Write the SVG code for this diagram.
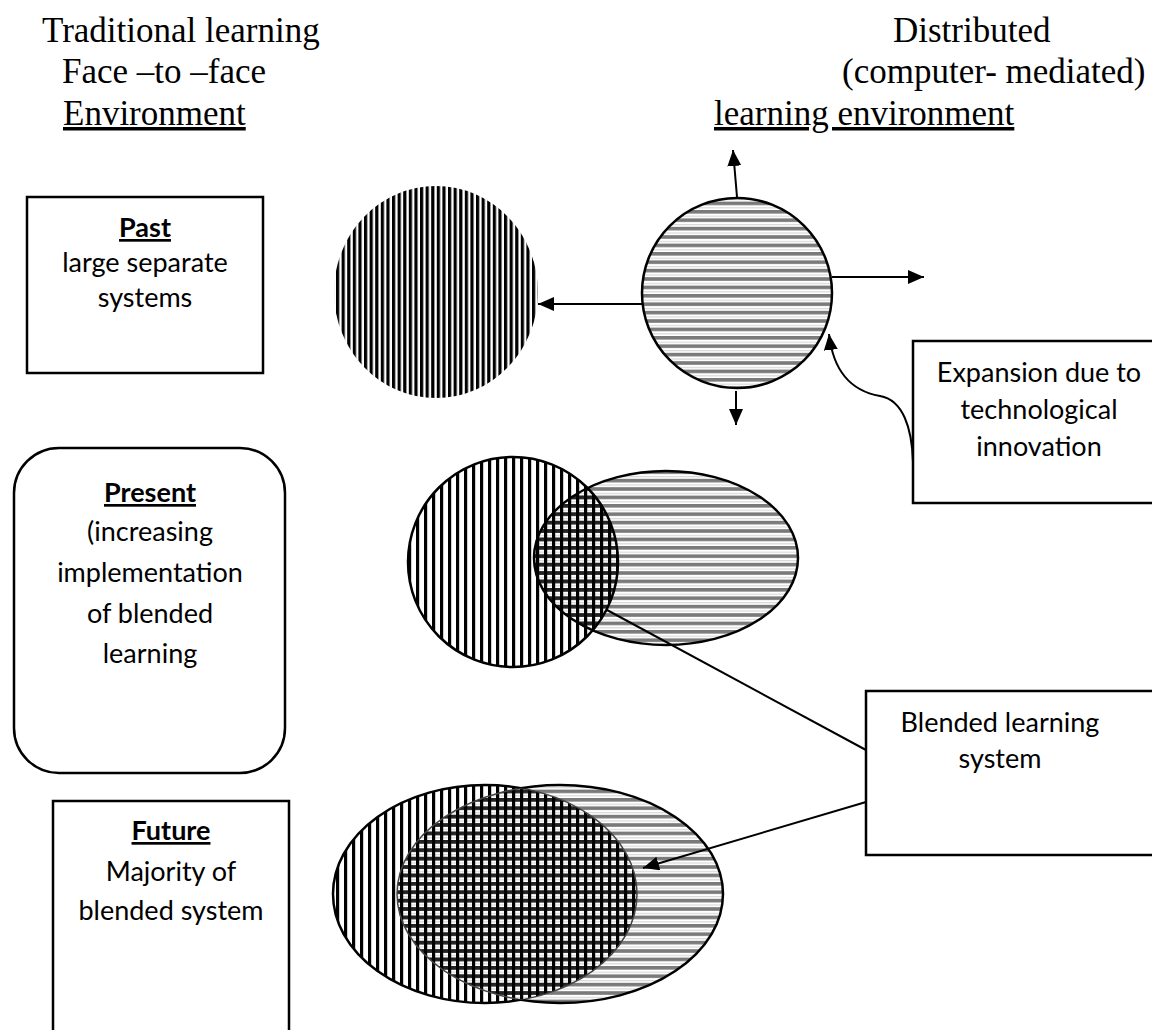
<svg xmlns="http://www.w3.org/2000/svg" width="1152" height="1030" viewBox="0 0 1152 1030">
<style>
.title{font-family:"Liberation Serif","Times New Roman",serif;font-size:35px;fill:#000}
.lbl{font-family:Lato,"Open Sans",sans-serif;font-size:27px;fill:#000;text-anchor:middle}
.hd{font-weight:bold;text-decoration:underline}
.box{fill:#fff;stroke:#000;stroke-width:2.5}
.ln{fill:none;stroke:#000;stroke-width:2}
.ol{fill:none;stroke:#000;stroke-width:2.5}
</style>
<defs>
<pattern id="vDense" width="5.6" height="10" patternUnits="userSpaceOnUse"><rect width="5.6" height="10" fill="#fff"/><rect width="3.2" height="10" fill="#000"/></pattern>
<pattern id="vWhite" width="8" height="10" patternUnits="userSpaceOnUse"><rect width="8" height="10" fill="#fff"/><rect width="3.2" height="10" fill="#000"/></pattern>
<pattern id="vStripe" width="8" height="10" patternUnits="userSpaceOnUse"><rect width="3.2" height="10" fill="#000"/></pattern>
<pattern id="hGrey" width="10" height="8.4" patternUnits="userSpaceOnUse"><rect width="10" height="8.4" fill="#fff"/><rect width="10" height="3.6" fill="#7a7a7a"/><rect y="5.8" width="10" height="1" fill="#cfcfcf"/></pattern>
<pattern id="hDark" width="10" height="8.4" patternUnits="userSpaceOnUse"><rect width="10" height="3.6" fill="#222"/></pattern>
<clipPath id="clipPresE"><ellipse cx="666" cy="558" rx="132" ry="87"/></clipPath>
<clipPath id="clipFutR"><ellipse cx="560" cy="894" rx="163" ry="109"/></clipPath>
<clipPath id="clipFutL"><ellipse cx="485" cy="894" rx="152" ry="109"/></clipPath>
<mask id="outFutR"><rect width="1152" height="1030" fill="#fff"/><ellipse cx="560" cy="894" rx="163" ry="109" fill="#000"/></mask>
<mask id="outFutL"><rect width="1152" height="1030" fill="#fff"/><ellipse cx="485" cy="894" rx="152" ry="109" fill="#000"/></mask>
<marker id="ah" markerWidth="16" markerHeight="14" refX="16" refY="7" orient="auto" markerUnits="userSpaceOnUse"><path d="M0,0 L16,7 L0,14 Z" fill="#000"/></marker>
</defs>
<rect width="1152" height="1030" fill="#fff"/>

<g id="titles">
<text class="title" x="42" y="42">Traditional learning</text>
<text class="title" x="62" y="83">Face –to –face</text>
<text class="title" x="63" y="125" text-decoration="underline">Environment</text>
<text class="title" x="893" y="42">Distributed</text>
<text class="title" x="842" y="83">(computer- mediated)</text>
<text class="title" x="714" y="125" text-decoration="underline">learning environment</text>
</g>

<g id="past-box">
<rect class="box" x="27" y="197" width="236" height="176"/>
<text class="lbl hd" x="145" y="237">Past</text>
<text class="lbl" x="145" y="272">large separate</text>
<text class="lbl" x="145" y="307">systems</text>
</g>

<g id="present-box">
<rect class="box" x="14" y="448" width="271" height="325" rx="45" ry="45"/>
<text class="lbl hd" x="150" y="502">Present</text>
<text class="lbl" x="150" y="541">(increasing</text>
<text class="lbl" x="150" y="582">implementation</text>
<text class="lbl" x="150" y="623">of blended</text>
<text class="lbl" x="150" y="663">learning</text>
</g>

<g id="future-box">
<path class="box" d="M53,1040 V801 H289 V1040"/>
<text class="lbl hd" x="171" y="840">Future</text>
<text class="lbl" x="171" y="881">Majority of</text>
<text class="lbl" x="171" y="920">blended system</text>
</g>

<g id="expansion-box">
<rect class="box" x="913" y="341" width="260" height="162"/>
<text class="lbl" x="1039" y="382">Expansion due to</text>
<text class="lbl" x="1039" y="419">technological</text>
<text class="lbl" x="1039" y="456">innovation</text>
</g>

<g id="blended-box">
<rect class="box" x="866" y="691" width="300" height="164"/>
<text class="lbl" x="1000" y="732">Blended learning</text>
<text class="lbl" x="1000" y="768">system</text>
</g>

<g id="past-traditional">
<ellipse cx="436" cy="292" rx="102" ry="106" fill="url(#vDense)"/>
</g>

<g id="past-distributed">
<circle cx="737" cy="293" r="95" fill="url(#hGrey)" stroke="#000" stroke-width="2.5"/>
</g>

<g id="present-venn">
<circle cx="513" cy="562" r="105" fill="url(#vWhite)"/>
<ellipse cx="666" cy="558" rx="132" ry="87" fill="url(#hGrey)"/>
<g clip-path="url(#clipPresE)">
<circle cx="513" cy="562" r="105" fill="url(#hDark)"/>
<circle cx="513" cy="562" r="105" fill="url(#vStripe)"/>
</g>
<circle class="ol" cx="513" cy="562" r="105"/>
<ellipse class="ol" cx="666" cy="558" rx="132" ry="87"/>
</g>

<g id="future-venn">
<ellipse cx="485" cy="894" rx="152" ry="109" fill="url(#vWhite)"/>
<ellipse cx="560" cy="894" rx="163" ry="109" fill="url(#hGrey)"/>
<g clip-path="url(#clipFutR)">
<ellipse cx="485" cy="894" rx="152" ry="109" fill="url(#hDark)"/>
<ellipse cx="485" cy="894" rx="152" ry="109" fill="url(#vStripe)"/>
</g>
<ellipse cx="485" cy="894" rx="152" ry="109" fill="none" stroke="#444" stroke-width="1.5" clip-path="url(#clipFutR)"/>
<ellipse cx="560" cy="894" rx="163" ry="109" fill="none" stroke="#444" stroke-width="1.5" clip-path="url(#clipFutL)"/>
<ellipse class="ol" cx="485" cy="894" rx="152" ry="109" mask="url(#outFutR)"/>
<ellipse class="ol" cx="560" cy="894" rx="163" ry="109" mask="url(#outFutL)"/>
</g>

<g id="connectors">
<line class="ln" x1="642" y1="304" x2="538" y2="304" marker-end="url(#ah)"/>
<line class="ln" x1="832" y1="277" x2="924" y2="277" marker-end="url(#ah)"/>
<line class="ln" x1="737" y1="197" x2="733" y2="150" marker-end="url(#ah)"/>
<line class="ln" x1="736" y1="391" x2="736" y2="425" marker-end="url(#ah)"/>
<path class="ln" d="M913,462 C912,428 903,400 880,396 C857,392 834,378 829,334" marker-end="url(#ah)"/>
<line class="ln" x1="607" y1="610" x2="866" y2="750"/>
<line class="ln" x1="866" y1="802" x2="643" y2="868" marker-end="url(#ah)"/>
</g>
</svg>
